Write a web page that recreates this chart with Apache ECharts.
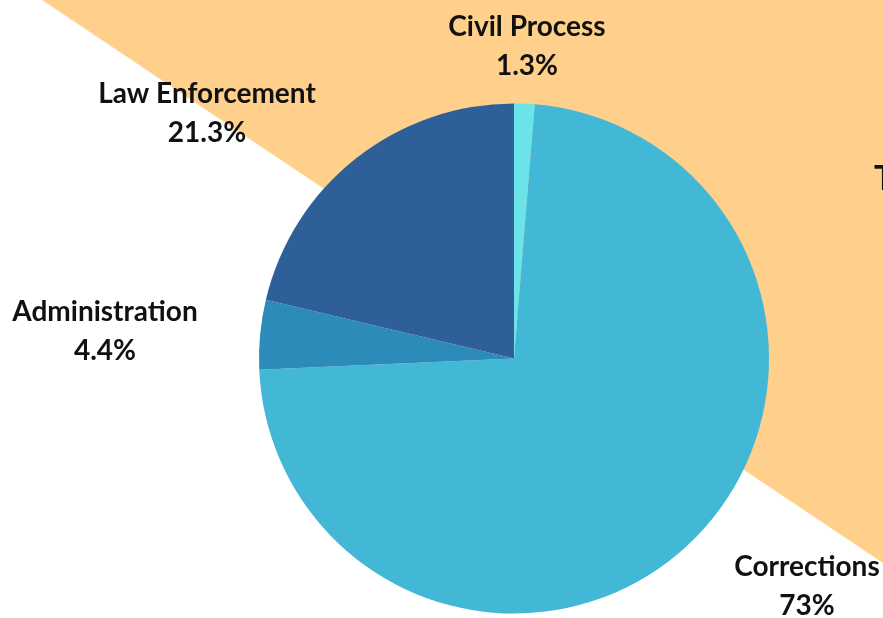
<!DOCTYPE html>
<html>
<head>
<meta charset="utf-8">
<script src="https://cdn.jsdelivr.net/npm/echarts@6/dist/echarts.min.js"></script>
<style>
  html, body { margin: 0; padding: 0; background: #ffffff; }
  #chart { width: 883px; height: 618px; }
</style>
</head>
<body>
<div id="chart"></div>
<script>
// Budget share by function (percent), listed clockwise from 12 o'clock
const categories = ['Civil Process', 'Corrections', 'Administration', 'Law Enforcement'];
const shares = [1.3, 73, 4.4, 21.3];

const sliceColors = ['#6AE3E9', '#42B7D6', '#2D8BBA', '#2F5F99'];

// label anchor for each slice, relative to the pie centre (px)
const labelOffsets = [[13, -312], [293, 228], [-409, -27], [-307, -245]];

const W = 883, H = 618;
const cx = 514, cy = 358.5;

const chart = echarts.init(document.getElementById('chart'), null, { renderer: 'canvas' });

chart.setOption({
  animation: false,
  backgroundColor: '#ffffff',
  graphic: [
    {
      type: 'polygon',
      z: -10,
      silent: true,
      shape: { points: [[42, 0], [W, 0], [W, 563]] },
      style: { fill: '#FED08B' }
    },
    {
      type: 'text',
      z: -5,
      left: 874,
      top: 162,
      style: {
        text: 'T',
        fill: '#111111',
        font: 'bold 34px Lato, "Noto Sans", sans-serif'
      }
    }
  ],
  series: [{
    type: 'pie',
    center: [cx, cy],
    radius: 255,
    startAngle: 90,
    clockwise: true,
    avoidLabelOverlap: false,
    itemStyle: { borderWidth: 0 },
    label: {
      show: true,
      position: 'outside',
      formatter: (p) => p.name + '\n' + p.value + '%',
      color: '#111111',
      fontFamily: 'Lato, "Noto Sans", sans-serif',
      fontWeight: 'bold',
      fontSize: 28,
      lineHeight: 39,
      align: 'center'
    },
    labelLine: { show: false },
    labelLayout: (params) => {
      const o = labelOffsets[params.dataIndex];
      return {
        x: cx + o[0],
        y: cy + o[1],
        align: 'center',
        verticalAlign: 'middle'
      };
    },
    data: categories.map((name, i) => ({
      name: name,
      value: shares[i],
      itemStyle: { color: sliceColors[i] }
    }))
  }]
});
</script>
</body>
</html>
